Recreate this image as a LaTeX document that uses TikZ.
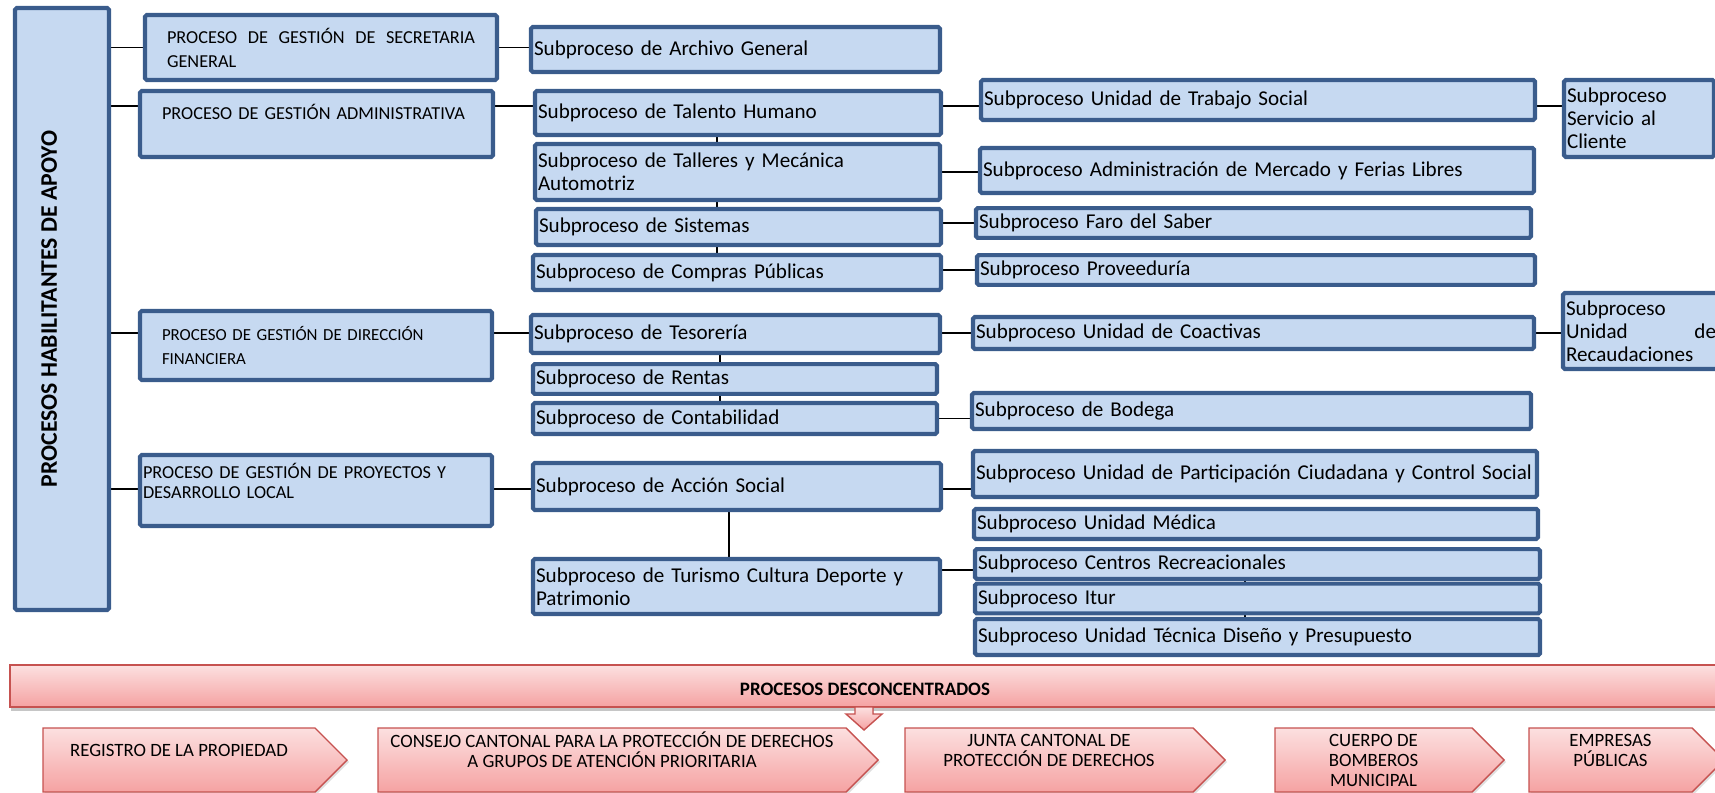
\documentclass[tikz,border=0pt]{standalone}
\usepackage{fontspec}
\setmainfont{Carlito}
\usepackage{tikz}
\usetikzlibrary{shapes.symbols,shadows,backgrounds}
\newcommand{\subtxt}{\fontsize{12}{13.2}\selectfont}
\newcommand{\proctxt}{\fontsize{10.4}{13.7}\selectfont}
\newcommand{\pentxt}{\fontsize{10.7}{11.4}\selectfont}
\definecolor{hbfill}{RGB}{198,217,241}
\definecolor{hbline}{RGB}{58,92,140}
\definecolor{dctop}{RGB}{252,224,224}
\definecolor{dcbot}{RGB}{245,162,162}
\definecolor{dcline}{RGB}{198,82,80}

\begin{document}
\begin{tikzpicture}[
  link/.style={line width=1pt, draw=black},
  box/.style={draw=hbline, fill=hbfill, line width=2.4pt, rounded corners=1pt},
  sub/.style 2 args={box, font=\subtxt, align=left, inner xsep=0.06cm,
                     text width=#1, minimum height=#2},
  proc/.style 2 args={box, font=\proctxt, align=left, inner xsep=0.44cm,
                      text width=#1, minimum height=#2},
  dcfill/.style={top color=dctop, bottom color=dcbot, draw=dcline, line width=0.8pt},
  pent/.style={dcfill, signal, signal to=east, signal pointer angle=90,
               minimum height=1.28cm, inner ysep=0pt, font=\pentxt, align=center,
               drop shadow={shadow xshift=0.04cm, shadow yshift=-0.04cm, opacity=0.25}}
]
\useasboundingbox (0,0) rectangle (34.30,-15.86);

\node[box, rotate=90, minimum width=12.04cm, minimum height=1.88cm, text depth=0.52cm,
      font=\fontsize{13.5}{15}\selectfont\bfseries] (hab) at (1.24,-6.18) {PROCESOS HABILITANTES DE APOYO};

\node[proc={6.16cm}{1.30cm}] (sec) at (6.42,-0.95) {PROCESO \hfill DE \hfill GESTIÓN \hfill DE \hfill SECRETARIA\\GENERAL};
\node[proc={6.18cm}{1.32cm}] (adm) at (6.33,-2.48) {PROCESO DE GESTIÓN ADMINISTRATIVA\\\mbox{}};
\node[proc={6.16cm}{1.38cm}, font=\fontsize{9.6}{13.7}\selectfont] (fin) at (6.32,-6.91) {PROCESO DE GESTIÓN DE DIRECCIÓN\\FINANCIERA};
\node[proc={6.92cm}{1.42cm}, inner xsep=0.06cm, font=\fontsize{10.4}{11.4}\selectfont] (proy) at (6.32,-9.81) {PROCESO DE GESTIÓN DE PROYECTOS Y\\DESARROLLO LOCAL\\\mbox{}};

\node[sub={8.06cm}{0.90cm}] (archivo) at (14.71,-0.99) {Subproceso de Archivo General};
\node[sub={8.00cm}{0.88cm}] (talento) at (14.76,-2.26) {Subproceso de Talento Humano};
\node[sub={7.98cm}{1.12cm}] (talleres) at (14.75,-3.44) {Subproceso de Talleres y Mecánica\\Automotriz};
\node[sub={7.98cm}{0.72cm}] (sistemas) at (14.77,-4.54) {Subproceso de Sistemas};
\node[sub={8.04cm}{0.70cm}] (compras) at (14.74,-5.45) {Subproceso de Compras Públicas};
\node[sub={8.06cm}{0.76cm}] (tes) at (14.71,-6.68) {Subproceso de Tesorería};
\node[sub={7.96cm}{0.56cm}] (rentas) at (14.70,-7.58) {Subproceso de Rentas};
\node[sub={7.96cm}{0.62cm}] (contab) at (14.70,-8.37) {Subproceso de Contabilidad};
\node[sub={8.04cm}{0.94cm}] (accion) at (14.74,-9.73) {Subproceso de Acción Social};
\node[sub={8.02cm}{1.10cm}] (turismo) at (14.73,-11.73) {Subproceso de Turismo Cultura Deporte y\\Patrimonio};

\node[sub={10.96cm}{0.80cm}] (trabajo) at (25.16,-2.00) {Subproceso Unidad de Trabajo Social};
\node[sub={10.96cm}{0.90cm}] (mercado) at (25.14,-3.41) {Subproceso Administración de Mercado y Ferias Libres};
\node[sub={10.98cm}{0.52cm}] (faro) at (25.07,-4.46) {Subproceso Faro del Saber};
\node[sub={11.04cm}{0.52cm}] (prov) at (25.12,-5.40) {Subproceso Proveeduría};
\node[sub={11.10cm}{0.64cm}] (coact) at (25.07,-6.66) {Subproceso Unidad de Coactivas};
\node[sub={11.06cm}{0.72cm}] (bodega) at (25.03,-8.22) {Subproceso de Bodega};
\node[sub={11.16cm}{0.92cm}] (partic) at (25.10,-9.48) {Subproceso Unidad de Participación Ciudadana y Control Social};
\node[sub={11.16cm}{0.60cm}] (medica) at (25.12,-10.48) {Subproceso Unidad Médica};
\node[sub={11.18cm}{0.48cm}] (centros) at (25.15,-11.28) {Subproceso Centros Recreacionales};
\node[sub={11.18cm}{0.42cm}] (itur) at (25.15,-11.97) {Subproceso Itur};
\node[sub={11.18cm}{0.72cm}] (tecnica) at (25.15,-12.74) {Subproceso Unidad Técnica Diseño y Presupuesto};

\node[sub={2.88cm}{1.54cm}] (servicio) at (32.78,-2.37) {Subproceso\\Servicio al\\Cliente};
\node[sub={3.00cm}{1.52cm}] (recaud) at (32.82,-6.62) {Subproceso\\Unidad \hfill de\\Recaudaciones};

\coordinate (r2) at (0,-2.12);
\coordinate (r3) at (0,-6.66);
\coordinate (r4) at (0,-9.78);
\coordinate (r5) at (0,-11.40);
\coordinate (c1) at (14.34,0);
\coordinate (c2) at (14.40,0);
\coordinate (c3) at (14.58,0);
\coordinate (c4) at (24.90,0);

\begin{scope}[on background layer]
\draw[link] (hab.south |- sec.west) -- (sec.west);
\draw[link] (sec.east) -- (archivo.west |- sec.east);
\draw[link] (hab.south |- r2) -- (adm.west |- r2);
\draw[link] (adm.east |- r2) -- (talento.west |- r2);
\draw[link] (talento.east |- r2) -- (trabajo.west |- r2);
\draw[link] (trabajo.east |- r2) -- (servicio.west |- r2);
\draw[link] (talleres.east) -- (mercado.west |- talleres.east);
\draw[link] (sistemas.east |- faro.west) -- (faro.west);
\draw[link] (compras.east |- prov.west) -- (prov.west);
\draw[link] (hab.south |- r3) -- (fin.west |- r3);
\draw[link] (fin.east |- r3) -- (tes.west |- r3);
\draw[link] (tes.east |- r3) -- (coact.west |- r3);
\draw[link] (coact.east |- r3) -- (recaud.west |- r3);
\draw[link] (contab.east) -- (bodega.west |- contab.east);
\draw[link] (hab.south |- r4) -- (proy.west |- r4);
\draw[link] (proy.east |- r4) -- (accion.west |- r4);
\draw[link] (accion.east |- r4) -- (partic.west |- r4);
\draw[link] (turismo.east |- r5) -- (centros.west |- r5);
\foreach \i/\j in {talento/talleres, talleres/sistemas, sistemas/compras}
  \draw[link] (\i.south -| c1) -- (\j.north -| c1);
\foreach \i/\j in {tes/rentas, rentas/contab}
  \draw[link] (\i.south -| c2) -- (\j.north -| c2);
\draw[link] (accion.south -| c3) -- (turismo.north -| c3);
\foreach \i/\j in {centros/itur, itur/tecnica}
  \draw[link] (\i.south -| c4) -- (\j.north -| c4);
\end{scope}

\node[dcfill, minimum width=34.20cm, minimum height=0.84cm, text height=0.38cm,
      font=\fontsize{10.8}{12}\selectfont\bfseries,
      drop shadow={shadow xshift=0.03cm, shadow yshift=-0.08cm, opacity=0.45}] (desc) at (17.30,-13.72) {PROCESOS DESCONCENTRADOS};
\filldraw[dcfill] (17.10,-14.14) -- (17.46,-14.14) -- (17.46,-14.28) -- (17.64,-14.28)
  -- (17.28,-14.60) -- (16.92,-14.28) -- (17.10,-14.28) -- cycle;

\node[pent, minimum width=6.08cm] (registro) at (3.58,-15.20) {REGISTRO DE LA PROPIEDAD\\\mbox{}};
\node[pent, minimum width=10.00cm] (consejo) at (12.24,-15.20) {CONSEJO CANTONAL PARA LA PROTECCIÓN DE DERECHOS\\A GRUPOS DE ATENCIÓN PRIORITARIA\\\mbox{}};
\node[pent, minimum width=6.40cm] (junta) at (20.98,-15.20) {JUNTA CANTONAL DE\\PROTECCIÓN DE DERECHOS\\\mbox{}};
\node[pent, minimum width=4.58cm] (cuerpo) at (27.47,-15.20) {CUERPO DE\\BOMBEROS\\MUNICIPAL};
\node[pent, minimum width=3.90cm] (empresas) at (32.21,-15.20) {EMPRESAS\\PÚBLICAS\\\mbox{}};
\end{tikzpicture}
\end{document}
